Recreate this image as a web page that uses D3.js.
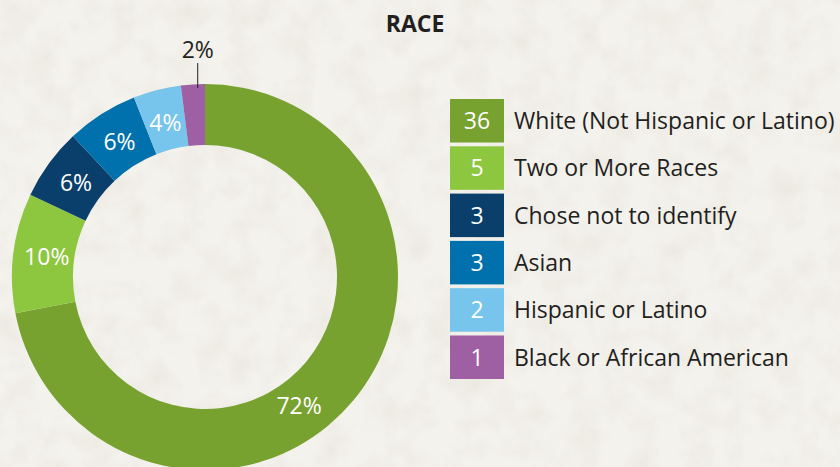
<!DOCTYPE html>
<html>
<head>
<meta charset="utf-8">
<script src="https://cdn.jsdelivr.net/npm/d3@7"></script>
<style>
  html, body { margin: 0; padding: 0; background: #f3f1eb; }
  svg { display: block; font-family: "Open Sans", sans-serif; }
</style>
</head>
<body>
<div id="chart"></div>
<script>
// Chart data
const categories = [
    'White (Not Hispanic or Latino)',
    'Two or More Races',
    'Chose not to identify',
    'Asian',
    'Hispanic or Latino',
    'Black or African American'
];
const counts = [36, 5, 3, 3, 2, 1];
const percentLabels = ['72%', '10%', '6%', '6%', '4%', '2%'];
const colors = ['#78a22f', '#8dc63f', '#0b3f6b', '#0071ad', '#77c4ec', '#9e5fa3'];

const width = 840;
const height = 467;

const svg = d3.select('#chart')
    .append('svg')
    .attr('width', width)
    .attr('height', height);

// Paper-like background with a faint texture
const defs = svg.append('defs');
const paper = defs.append('filter')
    .attr('id', 'paper')
    .attr('x', 0).attr('y', 0)
    .attr('width', '100%').attr('height', '100%');
paper.append('feTurbulence')
    .attr('type', 'fractalNoise')
    .attr('baseFrequency', 0.035)
    .attr('numOctaves', 3)
    .attr('seed', 4);
paper.append('feColorMatrix')
    .attr('values', '0 0 0 0 0.55  0 0 0 0 0.50  0 0 0 0 0.40  0 0 0 -0.9 0.55');
paper.append('feComposite')
    .attr('in2', 'SourceGraphic')
    .attr('operator', 'in');

svg.append('rect')
    .attr('width', width)
    .attr('height', height)
    .attr('fill', '#f4f2ed');
svg.append('rect')
    .attr('width', width)
    .attr('height', height)
    .attr('fill', '#f4f2ed')
    .attr('filter', 'url(#paper)')
    .attr('opacity', 0.35);

// Title
svg.append('text')
    .attr('x', 415)
    .attr('y', 32)
    .attr('text-anchor', 'middle')
    .style('font-size', '23px')
    .style('font-weight', '700')
    .style('fill', '#231f20')
    .text('RACE');

// Donut
const cx = 205, cy = 277;
const outerR = 193, innerR = 132;

const pie = d3.pie().sort(null).value(d => d);
const arcs = pie(counts);
const arc = d3.arc().innerRadius(innerR).outerRadius(outerR);

const donut = svg.append('g')
    .attr('transform', `translate(${cx},${cy})`);

donut.selectAll('path.slice')
    .data(arcs)
    .enter()
    .append('path')
    .attr('class', 'slice')
    .attr('fill', (d, i) => colors[i])
    .attr('d', arc);

// Percent labels: small last slice gets an outside label with a leader line
const midR = (innerR + outerR) / 2;
arcs.forEach((d, i) => {
    const last = i === arcs.length - 1;
    if (last) {
        const a = d.startAngle + (d.endAngle - d.startAngle) * 0.7;
        const x = Math.sin(a) * outerR;
        donut.append('line')
            .attr('x1', x).attr('x2', x)
            .attr('y1', -outerR + 4)
            .attr('y2', -outerR - 21)
            .attr('stroke', '#231f20')
            .attr('stroke-width', 1);
        donut.append('text')
            .attr('x', x)
            .attr('y', -outerR - 26)
            .attr('text-anchor', 'middle')
            .style('font-size', '23px')
            .style('fill', '#231f20')
            .text(percentLabels[i]);
        return;
    }
    // largest slice label sits further round, as in the original
    let a = (d.startAngle + d.endAngle) / 2;
    if (i === 0) a = d.startAngle + (d.endAngle - d.startAngle) * 0.555;
    const x = Math.sin(a) * (midR - 3);
    const y = -Math.cos(a) * (midR - 3);
    donut.append('text')
        .attr('x', x)
        .attr('y', y)
        .attr('dy', '0.35em')
        .attr('text-anchor', 'middle')
        .style('font-size', '23px')
        .style('fill', '#ffffff')
        .text(percentLabels[i]);
});

// Legend
const legendY = d3.scaleBand()
    .domain(categories)
    .range([99, 379])
    .paddingInner(0.08)
    .paddingOuter(0);

const legend = svg.append('g');
const rows = legend.selectAll('g.row')
    .data(categories)
    .enter()
    .append('g')
    .attr('class', 'row')
    .attr('transform', d => `translate(450,${legendY(d)})`);

rows.append('rect')
    .attr('width', 54)
    .attr('height', legendY.bandwidth())
    .attr('fill', (d, i) => colors[i]);

rows.append('text')
    .attr('x', 27)
    .attr('y', legendY.bandwidth() / 2)
    .attr('dy', '0.36em')
    .attr('text-anchor', 'middle')
    .style('font-size', '23px')
    .style('fill', '#ffffff')
    .text((d, i) => counts[i]);

rows.append('text')
    .attr('x', 64)
    .attr('y', legendY.bandwidth() / 2)
    .attr('dy', '0.36em')
    .style('font-size', '23px')
    .style('fill', '#231f20')
    .text(d => d);
</script>
</body>
</html>
